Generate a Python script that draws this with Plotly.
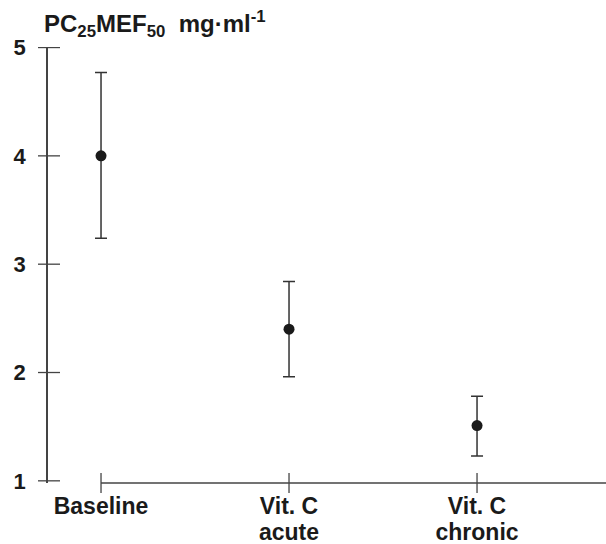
import plotly.graph_objects as go

categories = ["Baseline", "Vit. C acute", "Vit. C chronic"]
label_line1 = ["Baseline", "Vit. C", "Vit. C"]
label_line2 = ["", "acute", "chronic"]
means = [4.00, 2.40, 1.51]
upper = [4.77, 2.84, 1.78]
lower = [3.24, 1.96, 1.23]
y_ticks = [1, 2, 3, 4, 5]

xpos = list(range(len(categories)))
err_plus = [u - m for u, m in zip(upper, means)]
err_minus = [m - l for m, l in zip(means, lower)]

FONT = "Liberation Sans, Arial, Helvetica, sans-serif"
INK = "#1a1a1a"

fig = go.Figure()
fig.add_trace(go.Scatter(
    x=xpos, y=means, mode="markers",
    marker=dict(size=11, color=INK),
    error_y=dict(type="data", symmetric=False, array=err_plus, arrayminus=err_minus,
                 thickness=1.5, width=6, color="#333333"),
    showlegend=False, hoverinfo="skip",
))
# invisible companion trace so the second-line label axis is drawn
fig.add_trace(go.Scatter(x=xpos, y=means, xaxis="x2", mode="markers",
                         marker=dict(opacity=0), showlegend=False, hoverinfo="skip"))

x_min, x_max = -0.282, 2.686

shapes = []
shapes.append(dict(type="line", xref="x", yref="paper", x0=xpos[0], x1=x_max, y0=0, y1=0,
                   line=dict(color="#444444", width=1.5)))
for xv in xpos:
    shapes.append(dict(type="line", xref="x", yref="paper", ysizemode="pixel", yanchor=0,
                       x0=xv, x1=xv, y0=-10, y1=10, line=dict(color="#444444", width=1.3)))
for yv in y_ticks:
    shapes.append(dict(type="line", xref="paper", yref="y", xsizemode="pixel", xanchor=0,
                       x0=-10, x1=12, y0=yv, y1=yv, line=dict(color="#444444", width=1.3)))

xfont = dict(size=23, family=FONT, color=INK, weight="bold")

fig.update_layout(
    width=606, height=544,
    margin=dict(l=48, r=0, t=47, b=61),
    paper_bgcolor="white", plot_bgcolor="white",
    font=dict(family=FONT, color=INK, size=22, weight="bold"),
    xaxis=dict(range=[x_min, x_max], tickvals=xpos, ticktext=label_line1,
               showgrid=False, zeroline=False, showline=False, ticks="", automargin=False,
               tickfont=xfont, ticklabelstandoff=7),
    xaxis2=dict(range=[x_min, x_max], tickvals=xpos, ticktext=label_line2,
                overlaying="x", side="bottom", anchor="y",
                showgrid=False, zeroline=False, showline=False, ticks="", automargin=False,
                tickfont=xfont, ticklabelstandoff=33),
    yaxis=dict(range=[0.98, 5.005], tickvals=y_ticks, showgrid=False, zeroline=False,
               showline=True, linecolor="#444444", linewidth=1.5, ticks="", automargin=False,
               tickfont=dict(size=22, family=FONT, color=INK, weight="bold"),
               ticklabelstandoff=16),
    shapes=shapes,
    annotations=[dict(
        text="PC<sub>25</sub>MEF<sub>50</sub>  mg·ml<sup>-1</sup>",
        xref="paper", yref="paper", x=-0.011, y=1.0, xanchor="left", yanchor="bottom",
        yshift=4, showarrow=False,
        font=dict(size=24, family=FONT, color=INK, weight="bold"),
    )],
)

fig.write_html("out.html", config={"displayModeBar": False},
               post_script="document.body.style.margin='0';window.dispatchEvent(new Event('resize'));")
